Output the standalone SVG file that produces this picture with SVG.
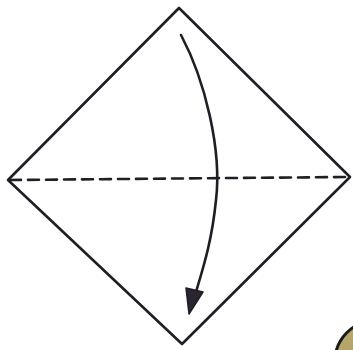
<svg xmlns="http://www.w3.org/2000/svg" width="353" height="350" viewBox="0 0 353 350">
<style>
.l{fill:none;stroke:#1e1e24;stroke-width:2.6;stroke-linecap:round;stroke-linejoin:round}
</style>
<rect width="353" height="350" fill="#fff"/>
<g id="paper">
<path class="l" d="M179,8 L350,177 L182,344 L8,180 Z"/>
</g>
<g id="connectors">
<path class="l" d="M10,180 L346,177" stroke-dasharray="11,7"/>
<path class="l" d="M181,35 C205,80 222,150 216,200 C212,240 204,265 196,292"/>
<path d="M189,314 L186,288 L203,292 Z" fill="#2a2530" stroke="#1e1e24" stroke-width="1.5" stroke-linejoin="round"/>
</g>
<g id="corner">
<circle cx="375" cy="361" r="40" fill="#b3a56c" stroke="#1a1a1a" stroke-width="3"/>
</g>
</svg>
